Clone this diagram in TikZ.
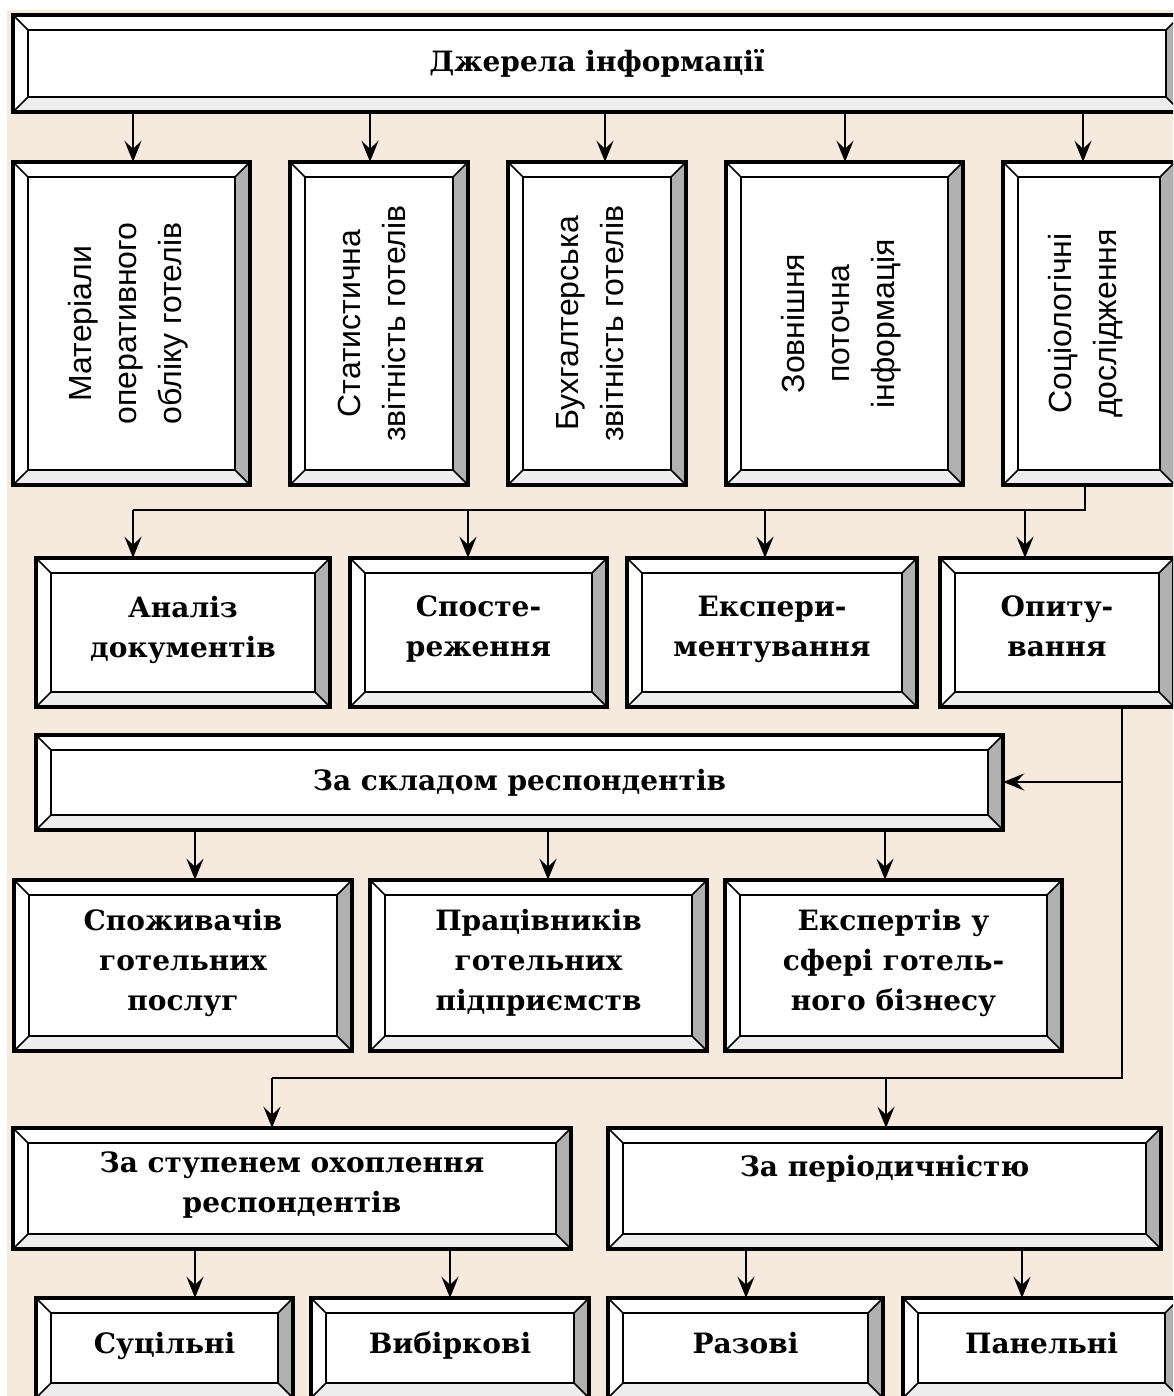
\documentclass[tikz,border=0pt]{standalone}
\usepackage{fontspec}
\setmainfont{DejaVu Serif}
\newfontfamily\narrowsans{Liberation Sans}
\usetikzlibrary{arrows.meta,fit}
\definecolor{bgbeige}{HTML}{F6EADF}
\tikzset{
  outerln/.style={line width=3.2pt,line join=miter},
  innerln/.style={line width=2.4pt},
  diagln/.style={line width=1.6pt},
  bevR/.style={fill=gray!62},
  bevB/.style={fill=gray!14},
  ln/.style={line width=2.4pt},
  arr/.style={ln,-{Stealth[length=21pt,width=17pt,inset=8pt]}},
  htxt/.style={font=\bfseries\fontsize{28}{40}\selectfont,align=center,inner sep=0pt,
    execute at begin node=\strut, execute at end node=\strut},
  vtxt/.style={font=\narrowsans\fontsize{32}{45}\selectfont,align=center,rotate=90,inner sep=0pt,
    execute at begin node=\strut, execute at end node=\strut},
}
\def\bv{15}
\newcommand\bevbox[6][]{%
  \fill[white] (#3,#4) rectangle (#5,#6);
  \fill[bevR] (#5,#4) -- ({#5-\bv},{#4+\bv}) -- ({#5-\bv},{#6-\bv}) -- (#5,#6) -- cycle;
  \fill[bevB] (#3,#6) -- ({#3+\bv},{#6-\bv}) -- ({#5-\bv},{#6-\bv}) -- (#5,#6) -- cycle;
  \draw[outerln] (#3,#4) rectangle (#5,#6);
  \draw[innerln] ({#3+\bv},{#4+\bv}) rectangle ({#5-\bv},{#6-\bv});
  \draw[diagln] (#3,#4) -- ({#3+\bv},{#4+\bv}) (#5,#4) -- ({#5-\bv},{#4+\bv})
     (#3,#6) -- ({#3+\bv},{#6-\bv}) (#5,#6) -- ({#5-\bv},{#6-\bv});
  \path (#3,#4) coordinate (#2-a) (#5,#6) coordinate (#2-b);
  \node[fit=(#2-a)(#2-b),inner sep=0pt,#1] (#2) {};
}
\begin{document}
\begin{tikzpicture}[x=1pt,y=-1pt]
\useasboundingbox (0,0) rectangle (1173,1396);
\clip (0,0) rectangle (1173,1396);
\fill[white] (0,0) rectangle (1173,1396);
\fill[bgbeige] (7,10) rectangle (1173,1396);

% top
\bevbox{T}{13}{15}{1181}{112}
\node[htxt] (Tt) at (T) {Джерела інформації};

% row 2
\bevbox{B1}{13}{162}{250}{485}
\bevbox{B2}{290}{162}{468}{485}
\bevbox{B3}{508}{162}{686}{485}
\bevbox{B4}{726}{162}{963}{485}
\bevbox{B5}{1003}{162}{1175}{485}
\node[vtxt] (B1t) at (B1) {Матеріали\\оперативного\\обліку готелів};
\node[vtxt] (B2t) at (B2) {Статистична\\звітність готелів};
\node[vtxt] (B3t) at (B3) {Бухгалтерська\\звітність готелів};
\node[vtxt] (B4t) at (B4) {Зовнішня\\поточна\\інформація};
\node[vtxt] (B5t) at (B5) {Соціологічні\\дослідження};

\coordinate (a1) at (133,0);
\coordinate (a2) at (370,0);
\coordinate (a3) at (605,0);
\coordinate (a4) at (845,0);
\coordinate (a5) at (1083,0);
\draw[arr] (T.south -| a1) -- (B1.north -| a1);
\draw[arr] (T.south -| a2) -- (B2.north -| a2);
\draw[arr] (T.south -| a3) -- (B3.north -| a3);
\draw[arr] (T.south -| a4) -- (B4.north -| a4);
\draw[arr] (T.south -| a5) -- (B5.north -| a5);

% row 3
\bevbox{C1}{36}{558}{330}{707}
\bevbox{C2}{350}{558}{607}{707}
\bevbox{C3}{627}{558}{917}{707}
\bevbox{C4}{940}{558}{1174}{707}
\node[htxt] (C1t) at (C1) {Аналіз\\документів};
\node[htxt] (C2t) at (C2) {Спосте-\\реження};
\node[htxt] (C3t) at (C3) {Експери-\\ментування};
\node[htxt] (C4t) at (C4) {Опиту-\\вання};

\coordinate (j5) at (1085,510);
\coordinate (j1) at (133,510);
\coordinate (j2) at (468,510);
\coordinate (j3) at (765,510);
\coordinate (j4) at (1025,510);
\draw[ln] (B5.south -| j5) -- (j5) -- (j1);
\draw[arr] (j1) -- (C1.north -| j1);
\draw[arr] (j2) -- (C2.north -| j2);
\draw[arr] (j3) -- (C3.north -| j3);
\draw[arr] (j4) -- (C4.north -| j4);

% respondents
\bevbox{K}{36}{735}{1003}{830}
\node[htxt] (Kt) at (K) {За складом респондентів};

\coordinate (v1) at (1122,782);
\coordinate (v2) at (1122,1078);
\coordinate (v3) at (272,1078);
\coordinate (v4) at (886,1078);
\draw[ln] (C4.south -| v1) -- (v2) -- (v3);
\draw[arr] (v1) -- (K.east |- v1);

% row 4
\bevbox{D1}{14}{880}{352}{1051}
\bevbox{D2}{370}{880}{707}{1051}
\bevbox{D3}{725}{880}{1062}{1051}
\node[htxt] (D1t) at (D1) {Споживачів\\готельних\\послуг};
\node[htxt] (D2t) at (D2) {Працівників\\готельних\\підприємств};
\node[htxt] (D3t) at (D3) {Експертів у\\сфері готель-\\ного бізнесу};

\coordinate (k1) at (195,0);
\coordinate (k2) at (548,0);
\coordinate (k3) at (885,0);
\draw[arr] (K.south -| k1) -- (D1.north -| k1);
\draw[arr] (K.south -| k2) -- (D2.north -| k2);
\draw[arr] (K.south -| k3) -- (D3.north -| k3);

% row 5
\bevbox{E1}{13}{1128}{571}{1249}
\bevbox{E2}{608}{1128}{1161}{1249}
\node[htxt] (E1t) at (E1) {За ступенем охоплення\\респондентів};
\node[htxt] (E2t) at ([yshift=20pt]E2.center) {За періодичністю};
\draw[arr] (v3) -- (E1.north -| v3);
\draw[arr] (v4) -- (E2.north -| v4);

% row 6
\bevbox{F1}{36}{1298}{293}{1398}
\bevbox{F2}{311}{1298}{589}{1398}
\bevbox{F3}{608}{1298}{883}{1398}
\bevbox{F4}{903}{1298}{1180}{1398}
\node[htxt] (F1t) at ([yshift=3pt]F1.center) {Суцільні};
\node[htxt] (F2t) at ([yshift=3pt]F2.center) {Вибіркові};
\node[htxt] (F3t) at ([yshift=3pt]F3.center) {Разові};
\node[htxt] (F4t) at ([yshift=3pt]F4.center) {Панельні};

\coordinate (e1) at (195,0);
\coordinate (e2) at (450,0);
\coordinate (e3) at (746,0);
\coordinate (e4) at (1022,0);
\draw[arr] (E1.south -| e1) -- (F1.north -| e1);
\draw[arr] (E1.south -| e2) -- (F2.north -| e2);
\draw[arr] (E2.south -| e3) -- (F3.north -| e3);
\draw[arr] (E2.south -| e4) -- (F4.north -| e4);
\end{tikzpicture}
\end{document}
